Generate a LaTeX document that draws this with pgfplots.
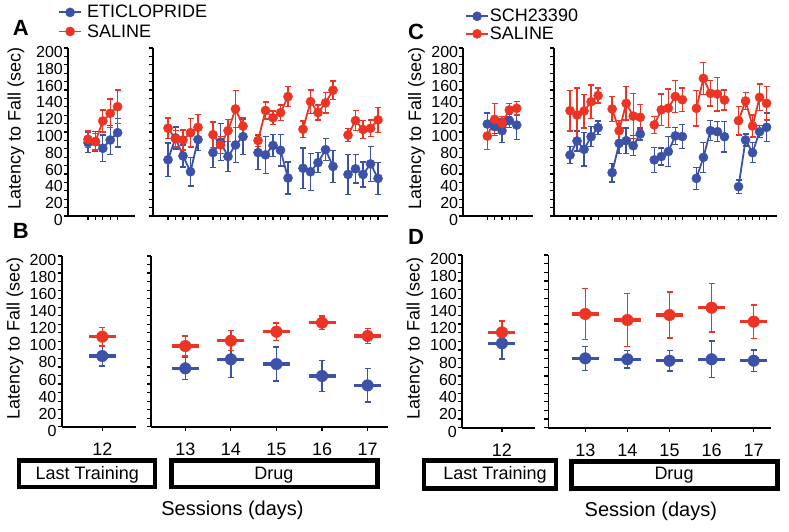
\documentclass[border=0pt]{standalone}
\usepackage{pgfplots}
\pgfplotsset{compat=1.18}
\usepackage{fontspec}
\setmainfont{Liberation Sans}
\definecolor{cblue}{RGB}{60,82,168}
\definecolor{cred}{RGB}{236,52,36}
\pgfplotsset{
 panel/.style={scale only axis, clip=false, axis lines*=left,
   axis line style={line width=1.8pt},
   tick style={black,line width=1.2pt}, tick align=outside,
   major tick length=4pt, minor tick length=4pt,
   ymin=0, ymax=200, ytick={0,20,...,200}, minor ytick={10,30,...,190},
   /pgf/number format/assume math mode=true,
   yticklabel style={font=\fontsize{16}{16}\selectfont, inner sep=1pt, yshift=-4pt},
   xticklabel style={font=\fontsize{18}{18}\selectfont, yshift=-9pt},
   label style={font=\fontsize{18}{18}\selectfont}},
 noy/.style={yticklabels={}},
 ser/.style={#1, line width=1.8pt, mark=*, mark size=4.6pt, mark options={solid,line width=0.4pt},
   unbounded coords=jump,
   error bars/y dir=both, error bars/y explicit,
   error bars/error bar style={line width=1.4pt, #1},
   error bars/error mark options={rotate=90, #1, mark size=3pt, line width=1.4pt}},
 ses/.style={#1, only marks, mark=*, mark size=5.8pt, mark options={solid,line width=0.4pt},
   error bars/y dir=both, error bars/y explicit,
   error bars/error bar style={line width=1.4pt, #1},
   error bars/error mark options={rotate=90, #1, mark size=3pt, line width=1.4pt}},
 hb/.style={#1, only marks, mark=-, mark size=13.5pt, mark options={line width=3.2pt}},
 legimg/.style={#1, line width=1.8pt, mark=*, mark size=4.6pt, mark options={solid,line width=0.4pt}},
}
\begin{document}
\begin{tikzpicture}[x=1pt,y=1pt]
\useasboundingbox (0,0) rectangle (789,-531);
% ---------- Panel A left
\begin{axis}[panel, at={(68pt,-216pt)}, anchor=south west, width=67pt, height=168pt,
  xmin=-2.7, xmax=6.35, xtick={0,...,4}, xticklabels={},
  ylabel={Latency to Fall (sec)},
  ylabel style={at={(axis description cs:-0.776,0.52)}, anchor=center},
  legend style={at={(axis description cs:-0.149,1.255)}, anchor=north west, draw=none, fill=none,
    font=\fontsize{18}{18}\selectfont, inner sep=0pt, row sep=5pt, nodes={inner sep=0pt}, column sep=5pt},
  legend cell align=left,
  legend image code/.code={\draw[mark repeat=2,mark phase=2,#1] plot coordinates {(0pt,0pt) (11pt,0pt) (22pt,0pt)};}]
\addplot[ser=cblue, forget plot] table[x=x,y=y,y error=e] {
x y e
0 87.3 12
1 88.5 12
2 80.6 16
3 90.5 17
4 99.2 17
};
\addplot[ser=cred, forget plot] table[x=x,y=y,y error=e] {
x y e
0 91.3 10
1 88.5 10
2 113.1 13
3 122.2 17
4 130.2 20
};
\addlegendimage{legimg=cblue}
\addlegendentry{ETICLOPRIDE}
\addlegendimage{legimg=cred}
\addlegendentry{SALINE}
\end{axis}
% ---------- Panel A right
\begin{axis}[panel, noy, at={(153pt,-216pt)}, anchor=south west, width=235pt, height=168pt,
  xmin=-2, xmax=29.33,
  xtick={0,1,2,3,4,6,7,8,9,10,12,13,14,15,16,18,19,20,21,22,24,25,26,27,28}, xticklabels={}]
\addplot[ser=cblue] table[x=x,y=y,y error=e] {
x y e
0 67 20
1 93 13
2 71.5 13
3 52.7 17
4 91 13
5 nan 0
6 75.5 18
7 88 22
8 70.8 18
9 84.6 21
10 94.5 21
11 nan 0
12 75.5 20
13 72.8 22
14 84 13
15 78.3 19
16 45.2 19
17 nan 0
18 56.8 24
19 52.7 22
20 63.5 12
21 79 13
22 59 19
23 nan 0
24 49.5 24
25 56.2 17
26 49.5 15
27 62 21
28 44.8 19
};
\addplot[ser=cred] table[x=x,y=y,y error=e] {
x y e
0 104.5 12
1 92 10
2 90.5 12
3 99.2 17
4 105.6 15
5 nan 0
6 96.8 15
7 84.6 10
8 101.6 13
9 127.4 22
10 107 10
11 nan 0
12 89.9 7
13 125.6 10
14 117 8
15 123 9
16 142.2 12
17 nan 0
18 103.3 10
19 136.2 14
20 123.1 9
21 134.7 12
22 149.8 11
23 nan 0
24 96.4 8
25 113.6 12
26 103 11
27 104.4 10
28 114.4 15
};
\end{axis}
% ---------- Panel C left
\begin{axis}[panel, at={(463.3pt,-216pt)}, anchor=south west, width=69.7pt, height=168pt,
  xmin=-3.27, xmax=6.22, xtick={0,...,4}, xticklabels={},
  ylabel={Latency to Fall (sec)},
  ylabel style={at={(axis description cs:-0.671,0.52)}, anchor=center},
  legend style={at={(axis description cs:0.024,1.232)}, anchor=north west, draw=none, fill=none,
    font=\fontsize{18}{18}\selectfont, inner sep=0pt, row sep=3.5pt, nodes={inner sep=0pt}, column sep=1pt},
  legend cell align=left,
  legend image code/.code={\draw[mark repeat=2,mark phase=2,#1] plot coordinates {(0pt,0pt) (11pt,0pt) (22pt,0pt)};}]
\addplot[ser=cblue, forget plot] table[x=x,y=y,y error=e] {
x y e
0 109.5 13
1 106.3 8
2 101.6 14
3 113.5 8
4 108.3 17
};
\addplot[ser=cred, forget plot] table[x=x,y=y,y error=e] {
x y e
0 95.2 16
1 115.1 19
2 110.3 8
3 126.2 8
4 128.2 8
};
\addlegendimage{legimg=cblue}
\addlegendentry{SCH23390}
\addlegendimage{legimg=cred}
\addlegendentry{SALINE}
\end{axis}
% ---------- Panel C right
\begin{axis}[panel, noy, at={(554.3pt,-216pt)}, anchor=south west, width=222.4pt, height=168pt,
  xmin=-2.24, xmax=29.44,
  xtick={0,1,2,3,4,6,7,8,9,10,12,13,14,15,16,18,19,20,21,22,24,25,26,27,28}, xticklabels={}]
\addplot[ser=cblue] table[x=x,y=y,y error=e] {
x y e
0 72.6 10
1 89.3 12
2 79.4 20
3 94.4 12
4 105.2 8
5 nan 0
6 51.6 11
7 86.5 12
8 89.7 15
9 83.7 12
10 97.6 7
11 nan 0
12 66.8 15
13 70.8 10
14 76.7 18
15 95.4 10
16 94.6 14
17 nan 0
18 44.8 13
19 69.8 18
20 101.6 12
21 100.4 12
22 94.4 18
23 nan 0
24 34.9 8
25 90.5 7
26 75.4 12
27 100.4 7
28 105.6 17
};
\addplot[ser=cred] table[x=x,y=y,y error=e] {
x y e
0 125.4 24
1 120.2 32
2 125 20
3 136.1 20
4 143.3 9
5 nan 0
6 127.4 15
7 101.6 12
8 134.1 20
9 119 27
10 117.5 15
11 nan 0
12 108.5 10
13 126.4 19
14 128.4 23
15 142.3 19
16 138.4 14
17 nan 0
18 128.2 21
19 163.9 19
20 146 15
21 145.2 20
22 138.1 12
23 nan 0
24 113.5 17
25 136.9 10
26 107.1 13
27 141.3 16
28 134.1 20
};
\end{axis}
% ---------- Panel B left
\begin{axis}[panel, at={(61.6pt,-426.7pt)}, anchor=south west, width=74.4pt, height=170.7pt,
  xmin=11.096, xmax=12.749, xtick={12},
  ylabel={Latency to Fall (sec)},
  ylabel style={at={(axis description cs:-0.626,0.517)}, anchor=center}]
\addplot[hb=cblue] table {
12 82.8
};
\addplot[ses=cblue] table[x index=0,y index=1,y error index=2] {
12 82.8 11.5
};
\addplot[hb=cred] table {
12 105.5
};
\addplot[ses=cred] table[x index=0,y index=1,y error index=2] {
12 105.5 11
};
\end{axis}
% ---------- Panel B right
\begin{axis}[panel, noy, at={(151pt,-426.7pt)}, anchor=south west, width=236.7pt, height=170.7pt,
  xmin=12.247, xmax=17.441, xtick={13,...,17}]
\addplot[hb=cblue] table {
13 68.4
14 78.9
15 73.4
16 59.4
17 48.4
};
\addplot[ses=cblue] table[x index=0,y index=1,y error index=2] {
13 68.4 13.3
14 78.9 21
15 73.4 20
16 59.4 18
17 48.4 19.5
};
\addplot[hb=cred] table {
13 94.5
14 100.8
15 111.3
16 121.9
17 106.3
};
\addplot[ses=cred] table[x index=0,y index=1,y error index=2] {
13 94.5 11.7
14 100.8 11.7
15 111.3 10
16 121.9 8
17 106.3 9
};
\end{axis}
% ---------- Panel D left
\begin{axis}[panel, at={(462pt,-427.7pt)}, anchor=south west, width=73pt, height=172.7pt,
  xmin=11.048, xmax=12.786, xtick={12},
  ylabel={Latency to Fall (sec)},
  ylabel style={at={(axis description cs:-0.644,0.517)}, anchor=center}]
\addplot[hb=cblue] table {
12 97.7
};
\addplot[ses=cblue] table[x index=0,y index=1,y error index=2] {
12 97.7 18
};
\addplot[hb=cred] table {
12 110.4
};
\addplot[ses=cred] table[x index=0,y index=1,y error index=2] {
12 110.4 13
};
\end{axis}
% ---------- Panel D right
\begin{axis}[panel, noy, at={(548.4pt,-427.7pt)}, anchor=south west, width=223pt, height=172.7pt,
  xmin=12.124, xmax=17.42, xtick={13,...,17}]
\addplot[hb=cblue] table {
13 80.3
14 79.2
15 77.6
16 79.2
17 77.6
};
\addplot[ses=cblue] table[x index=0,y index=1,y error index=2] {
13 80.3 14
14 79.2 10
15 77.6 12
16 79.2 21
17 77.6 12.5
};
\addplot[hb=cred] table {
13 131.7
14 124.7
15 130.5
16 139
17 122.8
};
\addplot[ses=cred] table[x index=0,y index=1,y error index=2] {
13 131.7 29.5
14 124.7 30.5
15 130.5 26.5
16 139 28
17 122.8 19.5
};
\end{axis}
% ---------- annotations
\begin{scope}[font=\fontsize{22}{22}\selectfont\bfseries]
\node at (20.8,-27.5) {A};
\node at (20.8,-231) {B};
\node at (416,-31.5) {C};
\node at (416,-237) {D};
\end{scope}
\begin{scope}[line width=4.5pt]
\draw (19,-460.5) rectangle (155,-487);
\draw (171.5,-460.5) rectangle (377.7,-487);
\draw (424,-460.5) rectangle (556,-488.4);
\draw (571.6,-461.5) rectangle (777.7,-488.4);
\end{scope}
\begin{scope}[font=\fontsize{18}{18}\selectfont]
\node at (87.2,-475) {Last Training};
\node at (273.8,-475) {Drug};
\node at (495,-475) {Last Training};
\node at (674,-475) {Drug};
\end{scope}
\begin{scope}[font=\fontsize{20}{20}\selectfont]
\node at (232.5,-510) {Sessions (days)};
\node at (650.8,-511.7) {Session (days)};
\end{scope}
\end{tikzpicture}
\end{document}
